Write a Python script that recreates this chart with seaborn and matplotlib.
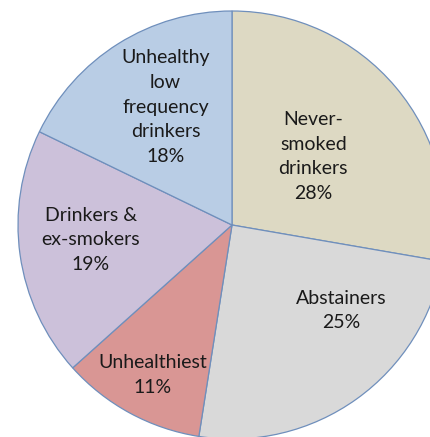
"""Pie chart of drinking / smoking groups"""
import matplotlib
matplotlib.use("Agg")
import matplotlib.pyplot as plt
import seaborn as sns

# data
groups = ["Never-\nsmoked\ndrinkers", "Abstainers", "Unhealthiest",
          "Drinkers &\nex-smokers", "Unhealthy\nlow\nfrequency\ndrinkers"]
shares = [28, 25, 11, 19, 18]
colors = ["#DDD9C3", "#D9D9D9", "#D99694", "#CCC1DA", "#B9CDE5"]

# label centres in pie units (pie centre = 0,0, radius = 1)
label_pos = [(0.38, 0.32), (0.51, -0.40), (-0.37, -0.70),
             (-0.66, -0.07), (-0.31, 0.55)]

sns.set_style("white")
plt.rcParams["font.family"] = ["Lato", "DejaVu Sans"]

fig = plt.figure(figsize=(4.30, 4.37), dpi=100)
ax = fig.add_axes([0, 0, 1, 1])
ax.pie(shares, colors=colors, startangle=90, counterclock=False,
       radius=1, center=(0, 0),
       wedgeprops=dict(edgecolor="#6F8FBC", linewidth=0.9))

for name, val, (x, y) in zip(groups, shares, label_pos):
    ax.text(x, y, f"{name}\n{val}%", ha="center", va="center",
            fontsize=14, linespacing=1.55, color="#1a1a1a")

r = 214.0
ax.set_xlim(-232 / r, (430 - 232) / r)
ax.set_ylim(-(437 - 225) / r, 225 / r)
ax.set_aspect("equal")
ax.axis("off")

fig.savefig("out.png", dpi=100)
